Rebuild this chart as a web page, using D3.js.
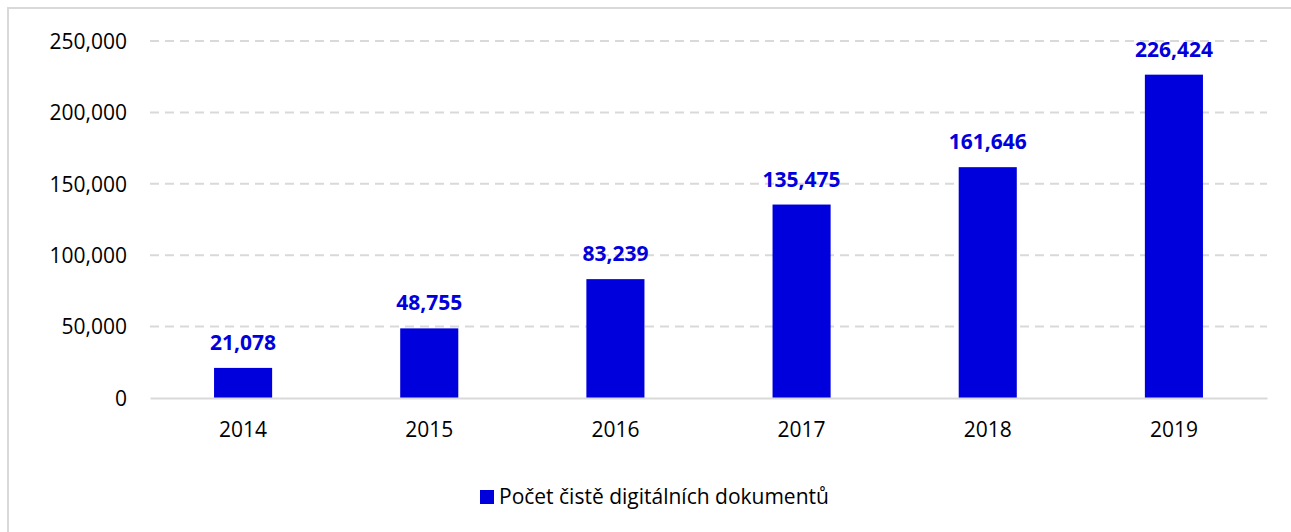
<!DOCTYPE html>
<html>
<head>
<meta charset="utf-8">
<script src="https://cdn.jsdelivr.net/npm/d3@7"></script>
<style>
  html, body { margin: 0; padding: 0; background: #fff; }
  svg { display: block; }
</style>
</head>
<body>
<svg id="chart" width="1291" height="532"></svg>
<script>
// Number of born-digital documents per year
const years = ["2014", "2015", "2016", "2017", "2018", "2019"];
const documents = [21078, 48755, 83239, 135475, 161646, 226424];
const yTicks = [0, 50000, 100000, 150000, 200000, 250000];
const seriesName = "Počet čistě digitálních dokumentů";

const W = 1291, H = 532;
const margin = { left: 150, right: 24, top: 41, bottom: 134 };
const barColor = "#0000dc";
const gridColor = "#d9d9d9";
const font = "'Open Sans', 'Noto Sans', sans-serif";

const svg = d3.select("#chart");

// chart frame (only top and left edges are visible in the window)
svg.append("rect")
  .attr("x", 8).attr("y", 8)
  .attr("width", W + 20).attr("height", H + 20)
  .attr("fill", "#fff")
  .attr("stroke", gridColor).attr("stroke-width", 2);

const x = d3.scaleBand()
  .domain(years)
  .range([margin.left, W - margin.right])
  .paddingInner(0.688).paddingOuter(0.344);

const y = d3.scaleLinear()
  .domain([0, 250000])
  .range([H - margin.bottom, margin.top]);

const fmt = d3.format(",");

// dashed horizontal gridlines
svg.append("g")
  .selectAll("line")
  .data(yTicks.filter(d => d > 0))
  .join("line")
  .attr("x1", margin.left).attr("x2", W - margin.right)
  .attr("y1", d => y(d)).attr("y2", d => y(d))
  .attr("stroke", gridColor).attr("stroke-width", 2)
  .attr("stroke-dasharray", "9,6");

// y axis labels
const yAxis = d3.axisLeft(y).tickValues(yTicks).tickFormat(fmt).tickSize(0).tickPadding(23);
const gy = svg.append("g").attr("transform", `translate(${margin.left},0)`).call(yAxis);
gy.select(".domain").remove();
gy.selectAll("text")
  .attr("font-family", font).attr("font-size", 21).attr("fill", "#000")
  .attr("dy", "0.35em");

// bars
svg.append("g")
  .selectAll("rect")
  .data(years.map((yr, i) => ({ yr, v: documents[i] })))
  .join("rect")
  .attr("x", d => x(d.yr))
  .attr("width", x.bandwidth())
  .attr("y", d => y(d.v))
  .attr("height", d => y(0) - y(d.v))
  .attr("fill", barColor);

// value labels
svg.append("g")
  .selectAll("text")
  .data(years.map((yr, i) => ({ yr, v: documents[i] })))
  .join("text")
  .attr("x", d => x(d.yr) + x.bandwidth() / 2)
  .attr("y", d => y(d.v) - 18)
  .attr("text-anchor", "middle")
  .attr("font-family", font).attr("font-size", 21).attr("font-weight", "bold")
  .attr("fill", barColor)
  .text(d => fmt(d.v));

// x axis
const xAxis = d3.axisBottom(x).tickSize(0).tickPadding(24);
const gx = svg.append("g").attr("transform", `translate(0,${y(0)})`).call(xAxis);
gx.select(".domain").attr("stroke", gridColor).attr("stroke-width", 2);
gx.selectAll("text")
  .attr("font-family", font).attr("font-size", 21).attr("fill", "#000");

// legend
const legend = svg.append("g");
legend.append("text")
  .attr("x", 499).attr("y", 504)
  .attr("font-family", font).attr("font-size", 21).attr("fill", "#000")
  .text(seriesName);
legend.append("rect")
  .attr("x", 480).attr("y", 490)
  .attr("width", 14).attr("height", 14)
  .attr("fill", barColor);
</script>
</body>
</html>
